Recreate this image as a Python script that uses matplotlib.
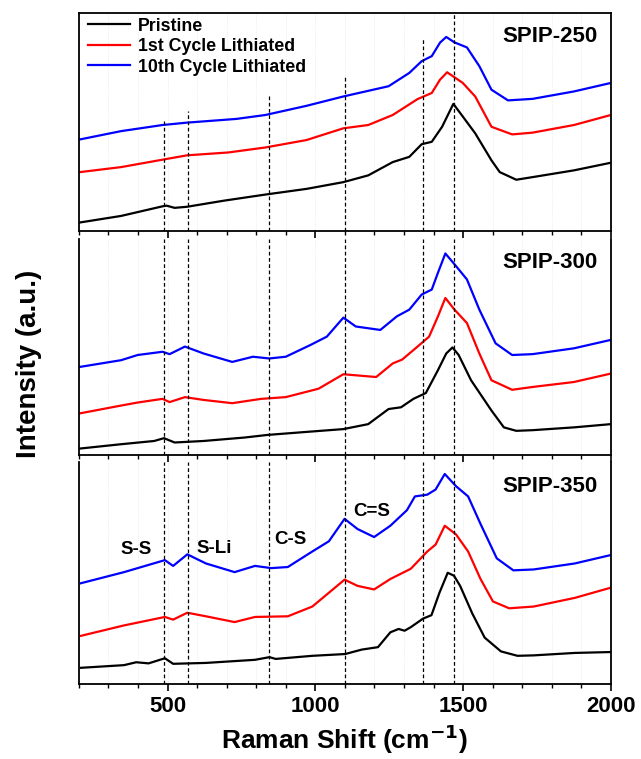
import matplotlib
matplotlib.use("Agg")
import matplotlib.pyplot as plt
from matplotlib.ticker import MultipleLocator

plt.rcParams['font.family'] = ['Liberation Sans', 'DejaVu Sans']
plt.rcParams['font.weight'] = 'bold'
plt.rcParams['mathtext.default'] = 'bf'

# ---- data (x in cm-1, intensity in arbitrary units, 0-100 per panel) ----
# SPIP-250
x250_k = [204, 343, 483, 497, 524, 566, 691, 831, 970, 1095, 1179, 1262, 1318, 1360, 1394, 1429, 1467, 1499, 1541, 1596, 1624, 1680, 1735, 1875, 2000]
y250_k = [3.9, 6.9, 11.3, 11.6, 10.6, 11.1, 13.9, 16.7, 19.3, 22.4, 25.5, 31.6, 34.0, 39.8, 40.9, 47.8, 58.3, 52.5, 44.8, 32.4, 27.0, 23.5, 24.7, 27.8, 31.3]
x250_r = [204, 343, 483, 566, 705, 831, 970, 1095, 1179, 1262, 1346, 1394, 1422, 1446, 1499, 1541, 1596, 1666, 1735, 1875, 2000]
y250_r = [27.0, 29.3, 32.7, 34.7, 36.0, 38.3, 41.7, 47.1, 48.6, 53.2, 60.5, 63.3, 69.4, 72.8, 67.9, 61.7, 47.8, 44.3, 45.1, 48.6, 53.2]
x250_b = [204, 343, 483, 566, 733, 831, 970, 1095, 1248, 1318, 1360, 1394, 1422, 1443, 1471, 1513, 1555, 1596, 1652, 1735, 1875, 2000]
y250_b = [42.0, 45.8, 48.6, 49.7, 51.4, 53.2, 57.4, 61.7, 66.4, 72.5, 77.9, 80.2, 86.4, 89.0, 86.5, 84.2, 75.6, 64.8, 59.9, 60.6, 64.0, 67.9]

# SPIP-300
x300_k = [204, 343, 455, 488, 524, 622, 761, 838, 970, 1095, 1179, 1248, 1290, 1332, 1374, 1415, 1443, 1464, 1485, 1527, 1596, 1638, 1680, 1735, 1875, 2000]
y300_k = [3.0, 5.0, 6.5, 7.8, 5.8, 6.5, 8.1, 9.3, 10.7, 12.0, 14.3, 21.3, 22.1, 26.0, 28.7, 39.3, 47.0, 49.8, 46.3, 34.6, 20.6, 12.8, 11.2, 11.5, 12.8, 14.3]
x300_r = [204, 343, 399, 483, 507, 559, 622, 719, 817, 900, 1011, 1095, 1206, 1262, 1294, 1346, 1385, 1415, 1440, 1471, 1513, 1555, 1596, 1666, 1735, 1875, 2000]
y300_r = [19.3, 22.9, 24.3, 26.0, 24.5, 26.8, 25.5, 24.0, 26.0, 26.8, 30.7, 37.4, 36.1, 42.4, 44.2, 50.2, 54.8, 64.2, 72.7, 67.3, 61.1, 47.0, 34.6, 30.2, 31.5, 33.8, 37.7]
x300_b = [204, 343, 399, 483, 507, 559, 622, 719, 789, 844, 900, 983, 1039, 1095, 1137, 1220, 1276, 1318, 1360, 1394, 1415, 1440, 1471, 1513, 1555, 1610, 1666, 1735, 1875, 2000]
y300_b = [40.8, 43.9, 46.3, 47.8, 46.7, 50.2, 47.0, 43.1, 45.5, 44.7, 45.5, 50.9, 54.8, 63.6, 59.5, 57.9, 64.2, 67.3, 74.3, 76.6, 84.4, 93.3, 88.3, 81.3, 67.3, 51.7, 46.3, 46.7, 49.4, 53.3]

# SPIP-350
x350_k = [207, 353, 394, 436, 491, 519, 630, 796, 845, 866, 990, 1101, 1157, 1212, 1254, 1282, 1302, 1323, 1365, 1393, 1420, 1448, 1469, 1490, 1531, 1573, 1628, 1684, 1739, 1878, 2000]
y350_k = [7.3, 8.5, 9.8, 9.3, 11.6, 9.1, 9.5, 10.9, 12.1, 11.3, 12.7, 13.5, 15.5, 16.6, 23.3, 24.8, 24.0, 25.6, 29.5, 31.0, 41.1, 50.1, 48.8, 44.2, 31.8, 20.9, 14.7, 12.7, 12.9, 14.0, 14.4]
x350_r = [207, 353, 491, 519, 567, 630, 727, 796, 907, 990, 1099, 1143, 1199, 1254, 1323, 1379, 1407, 1438, 1476, 1517, 1559, 1601, 1656, 1739, 1878, 2000]
y350_r = [21.7, 26.4, 30.2, 29.0, 32.1, 30.5, 27.9, 30.2, 30.5, 34.9, 47.0, 44.2, 42.6, 47.3, 51.9, 59.7, 62.8, 71.3, 67.4, 59.7, 47.3, 37.2, 34.1, 34.9, 38.8, 43.4]
x350_b = [207, 353, 491, 519, 567, 630, 727, 796, 851, 907, 990, 1046, 1099, 1143, 1199, 1254, 1310, 1337, 1379, 1407, 1438, 1476, 1517, 1559, 1614, 1670, 1739, 1878, 2000]
y350_b = [45.4, 50.4, 55.8, 53.2, 58.4, 54.3, 50.4, 53.2, 52.2, 52.7, 59.7, 64.3, 74.4, 69.8, 66.2, 71.3, 78.3, 84.5, 85.3, 87.6, 94.6, 89.1, 84.5, 72.1, 56.6, 51.2, 51.6, 54.3, 58.1]

panel_names = ['SPIP-250', 'SPIP-300', 'SPIP-350']
series_labels = ['Pristine', '1st Cycle Lithiated', '10th Cycle Lithiated']
series_colors = ['black', 'red', 'blue']

# vertical reference lines (cm-1); in the top panel they stop below the legend
ref_lines = [488, 570, 843, 1100, 1366, 1470]
ref_tops_250 = [0.51, 0.55, 0.62, 0.71, 0.88, 1.0]

bond_labels = ['S-S', 'S-Li', 'C-S', 'C=S']
bond_x = [394, 657, 914, 1191]
bond_y = [60.5, 61.0, 65.0, 77.5]

panels = [
    [(x250_k, y250_k), (x250_r, y250_r), (x250_b, y250_b)],
    [(x300_k, y300_k), (x300_r, y300_r), (x300_b, y300_b)],
    [(x350_k, y350_k), (x350_r, y350_r), (x350_b, y350_b)],
]

fig = plt.figure(figsize=(6.41, 7.59), dpi=100)
boxes = [
    [0.123, 0.6957, 0.830, 0.2872],
    [0.123, 0.4005, 0.830, 0.2846],
    [0.123, 0.0988, 0.830, 0.2925],
]

axes = []
for i, (box, data) in enumerate(zip(boxes, panels)):
    ax = fig.add_axes(box)
    axes.append(ax)
    for (xs, ys), lab, col in zip(data, series_labels, series_colors):
        ax.plot(xs, ys, color=col, lw=1.6, label=lab)

    # dashed reference lines
    for j, xr in enumerate(ref_lines):
        top = ref_tops_250[j] if i == 0 else 1.0
        ax.axvline(xr, ymin=0, ymax=top, color='black', ls=(0, (3, 2)), lw=0.9)

    ax.set_xlim(200, 2000)
    ax.set_ylim(0, 100)
    ax.xaxis.set_major_locator(MultipleLocator(500))
    ax.xaxis.set_minor_locator(MultipleLocator(100))
    ax.grid(axis='x', which='both', color='#e6e6e6', ls=':', lw=0.6)
    ax.set_axisbelow(True)
    ax.set_yticks([])
    ax.tick_params(axis='x', which='major', direction='out', length=5, width=1.2, labelsize=16)
    ax.tick_params(axis='x', which='minor', direction='out', length=3, width=1.0)
    for sp in ax.spines.values():
        sp.set_linewidth(1.3)
    if i > 0:
        ax.spines['top'].set_visible(False)
    if i < 2:
        ax.set_xticklabels([])

    ax.text(0.975, 0.89, panel_names[i], transform=ax.transAxes, ha='right', va='center',
            fontsize=16, fontweight='bold')

axes[0].legend(loc='upper left', bbox_to_anchor=(0.0, 1.02), frameon=False, handlelength=2.4,
               borderaxespad=0.1, labelspacing=0.2, handletextpad=0.4,
               prop={'weight': 'bold', 'size': 12.8})

for lab, bx, by in zip(bond_labels, bond_x, bond_y):
    axes[2].text(bx, by, lab, ha='center', va='center', fontsize=13.5, fontweight='bold')

for lbl in axes[2].get_xticklabels():
    lbl.set_fontweight('bold')

axes[2].set_xlabel('Raman Shift (cm$^{-1}$)', fontsize=19, fontweight='bold', labelpad=4)
fig.text(0.045, 0.52, 'Intensity (a.u.)', rotation=90, ha='center', va='center',
         fontsize=20, fontweight='bold')

fig.savefig('out.png', dpi=100)
